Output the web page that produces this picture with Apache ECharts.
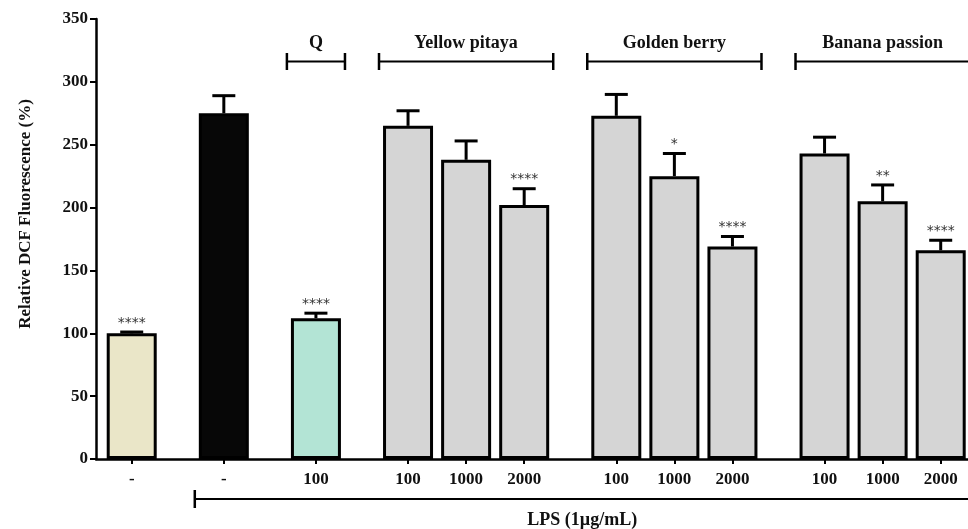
<!DOCTYPE html>
<html>
<head>
<meta charset="utf-8">
<title>Relative DCF Fluorescence</title>
<script src="https://cdn.jsdelivr.net/npm/echarts@6/dist/echarts.min.js"></script>
<style>
  html, body { margin: 0; padding: 0; background: #ffffff; }
  #chart { width: 968px; height: 529px; }
</style>
</head>
<body>
<div id="chart"></div>
<script>
// ---- data ----
const sampleLabels = ['-', '-', '100', '100', '1000', '2000', '100', '1000', '2000', '100', '1000', '2000'];
const sampleGroup = [0, 1, 2, 3, 3, 3, 4, 4, 4, 5, 5, 5];
const groupTitles = ['', '', 'Q', 'Yellow pitaya', 'Golden berry', 'Banana passion'];
const meanFluorescence = [100, 275, 112, 265, 238, 202, 273, 225, 169, 243, 205, 166];
const semFluorescence = [1, 14, 4, 12, 15, 13, 17, 18, 8, 13, 13, 8];
const significance = ['****', '', '****', '', '', '****', '', '*', '****', '', '**', '****'];
const lpsFirstSample = 1;
const lpsLabel = 'LPS (1µg/mL)';
const yAxisTitle = 'Relative DCF Fluorescence (%)';

// ---- styles ----
const groupFill = ['#EAE6C8', '#070707', '#B3E4D5', '#D5D5D5', '#D5D5D5', '#D5D5D5'];
const serifFamily = '"Liberation Serif", "Times New Roman", serif';
const serifBold = 'bold 18px ' + serifFamily;
const GROUP_STEP = 1.586;   // spacing between groups, relative to spacing inside a group

// bar centres along the x axis: unit step inside a group, wider step between groups
const positions = [];
sampleGroup.forEach(function (g, i) {
  positions.push(i === 0 ? 0 : positions[i - 1] + (g !== sampleGroup[i - 1] ? GROUP_STEP : 1));
});
const lastPos = positions[positions.length - 1];

// bracket spans for the titled groups
const brackets = [];
groupTitles.forEach(function (title, g) {
  if (!title) return;
  const idx = sampleGroup.map(function (s, i) { return s === g ? i : -1; }).filter(function (i) { return i >= 0; });
  brackets.push({ value: [positions[idx[0]] - 0.5, positions[idx[idx.length - 1]] + 0.5], title: title });
});
const lpsSpan = [positions[lpsFirstSample] - 0.5, lastPos + 0.5];

function labelAt(v) {
  const i = positions.findIndex(function (p) { return Math.abs(p - v) < 1e-6; });
  return i >= 0 ? sampleLabels[i] : '';
}

const chart = echarts.init(document.getElementById('chart'), null, { renderer: 'canvas' });

chart.setOption({
  animation: false,
  backgroundColor: '#ffffff',
  grid: { left: 96, right: 0, top: 19, bottom: 70, containLabel: false },
  xAxis: {
    type: 'value',
    min: -0.615,
    max: lastPos + 0.47,
    splitLine: { show: false },
    axisLine: { show: true, onZero: false, lineStyle: { color: '#000', width: 2.5 } },
    axisTick: { show: true, customValues: positions, length: 5, lineStyle: { color: '#000', width: 2 } },
    axisLabel: {
      show: true,
      customValues: positions,
      formatter: labelAt,
      margin: 12,
      color: '#111',
      fontFamily: serifFamily,
      fontWeight: 'bold',
      fontSize: 17
    }
  },
  yAxis: {
    type: 'value',
    min: 0,
    max: 350,
    interval: 50,
    name: yAxisTitle,
    nameLocation: 'middle',
    nameGap: 62,
    nameTextStyle: {
      color: '#111',
      fontFamily: serifFamily,
      fontWeight: 'bold',
      fontSize: 17,
      padding: [0, 0, 0, 50]
    },
    splitLine: { show: false },
    axisLine: { show: true, onZero: false, lineStyle: { color: '#000', width: 2.5 } },
    axisTick: { show: true, length: 6, lineStyle: { color: '#000', width: 2 } },
    axisLabel: {
      margin: 8,
      color: '#111',
      fontFamily: serifFamily,
      fontWeight: 'bold',
      fontSize: 17
    }
  },
  series: [
    {
      type: 'bar',
      barWidth: 50,
      z: 2,
      itemStyle: { borderColor: '#000', borderWidth: 3 },
      data: meanFluorescence.map(function (m, i) {
        return { value: [positions[i], m], itemStyle: { color: groupFill[sampleGroup[i]] } };
      })
    },
    {
      // error bars (mean + SEM) with significance marks
      type: 'custom',
      z: 3,
      clip: false,
      encode: { x: 0, y: 1 },
      data: meanFluorescence.map(function (m, i) { return [positions[i], m, semFluorescence[i]]; }),
      renderItem: function (params, api) {
        const x = api.value(0), m = api.value(1), e = api.value(2);
        const base = api.coord([x, m]);
        const top = api.coord([x, m + e]);
        const children = [
          { type: 'line', shape: { x1: base[0], y1: base[1], x2: top[0], y2: top[1] }, style: { stroke: '#000', lineWidth: 3 } },
          { type: 'line', shape: { x1: top[0] - 11.5, y1: top[1], x2: top[0] + 11.5, y2: top[1] }, style: { stroke: '#000', lineWidth: 3 } }
        ];
        const mark = significance[params.dataIndex];
        if (mark) {
          children.push({
            type: 'text', x: top[0], y: top[1] - 2,
            style: { text: mark, fill: '#333', font: '14px "DejaVu Sans", sans-serif', align: 'center', verticalAlign: 'bottom', textAlign: 'center', textVerticalAlign: 'bottom' }
          });
        }
        return { type: 'group', children: children };
      }
    },
    {
      // treatment brackets above the bars
      type: 'custom',
      z: 3,
      clip: false,
      encode: { x: [0, 1] },
      data: brackets,
      renderItem: function (params, api) {
        const a = api.coord([api.value(0), 350]);
        const b = api.coord([api.value(1), 350]);
        const y = a[1] + 42.5;
        const title = brackets[params.dataIndex].title;
        return {
          type: 'group',
          children: [
            { type: 'line', shape: { x1: a[0], y1: y, x2: b[0], y2: y }, style: { stroke: '#000', lineWidth: 2 } },
            { type: 'line', shape: { x1: a[0], y1: y - 8.5, x2: a[0], y2: y + 8.5 }, style: { stroke: '#000', lineWidth: 2.5 } },
            { type: 'line', shape: { x1: b[0], y1: y - 8.5, x2: b[0], y2: y + 8.5 }, style: { stroke: '#000', lineWidth: 2.5 } },
            {
              type: 'text', x: (a[0] + b[0]) / 2, y: y - 18,
              style: { text: title, fill: '#111', font: serifBold, align: 'center', verticalAlign: 'middle', textAlign: 'center', textVerticalAlign: 'middle' }
            }
          ]
        };
      }
    },
    {
      // LPS bracket below the axis labels
      type: 'custom',
      z: 3,
      clip: false,
      encode: { x: [0, 1] },
      data: [lpsSpan],
      renderItem: function (params, api) {
        const a = api.coord([api.value(0), 0]);
        const b = api.coord([api.value(1), 0]);
        const y = a[1] + 40;
        return {
          type: 'group',
          children: [
            { type: 'line', shape: { x1: a[0], y1: y, x2: b[0], y2: y }, style: { stroke: '#000', lineWidth: 2 } },
            { type: 'line', shape: { x1: a[0], y1: y - 9, x2: a[0], y2: y + 9 }, style: { stroke: '#000', lineWidth: 2.5 } },
            { type: 'line', shape: { x1: b[0], y1: y - 9, x2: b[0], y2: y + 9 }, style: { stroke: '#000', lineWidth: 2.5 } },
            {
              type: 'text', x: (a[0] + b[0]) / 2, y: y + 21,
              style: { text: lpsLabel, fill: '#111', font: serifBold, align: 'center', verticalAlign: 'middle', textAlign: 'center', textVerticalAlign: 'middle' }
            }
          ]
        };
      }
    }
  ]
});
</script>
</body>
</html>
